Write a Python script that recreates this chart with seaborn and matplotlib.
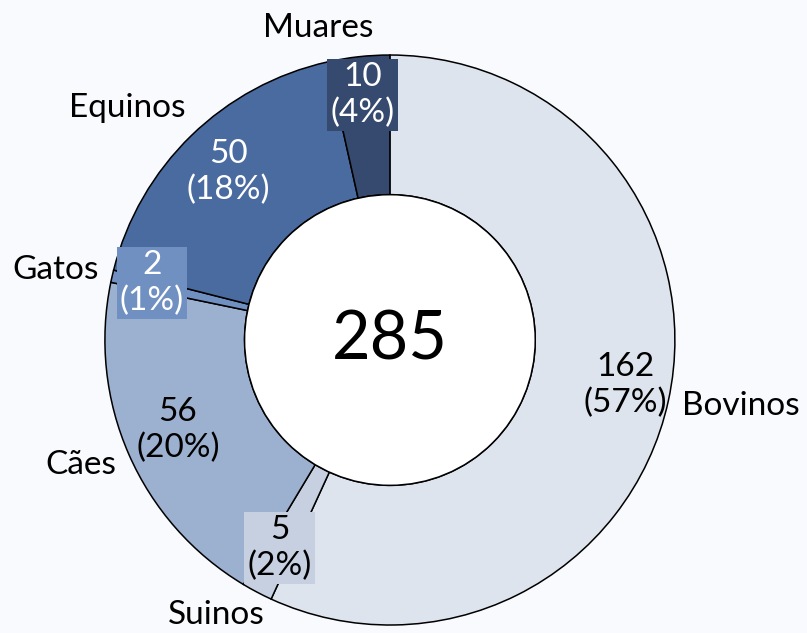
import matplotlib
matplotlib.use("Agg")
from matplotlib import pyplot as plt
import seaborn as sns
import numpy as np

# data
categories = ["Bovinos", "Suinos", "Cães", "Gatos", "Equinos", "Muares"]
counts = [162, 5, 56, 2, 50, 10]
colors = ["#dee4ee", "#c6d0e1", "#9cb0cf", "#7190c2", "#4a6b9f", "#354a6e"]
text_colors = ["black", "black", "black", "white", "white", "white"]
boxed = [False, True, False, True, False, True]

# label spots (data units, radius 1 = outer ring)
value_pos = [(0.825, -0.158), (-0.386, -0.730), (-0.744, -0.316),
             (-0.835, 0.20), (-0.568, 0.589), (-0.095, 0.86)]
name_pos = [(1.23, -0.23), (-0.61, -0.965), (-1.084, -0.439),
            (-1.172, 0.246), (-0.923, 0.814), (-0.253, 1.095)]

sns.set_style("white")
plt.rcParams["font.family"] = ["Lato", "DejaVu Sans"]
bg = "#f9fafd"

fig = plt.figure(figsize=(8.07, 6.33), dpi=100, facecolor=bg)
ax = fig.add_axes([0.130, 0.0126, 0.7063, 0.9005])
ax.set_facecolor(bg)

ax.pie(counts, colors=colors, startangle=90, counterclock=False, radius=1,
       wedgeprops=dict(width=0.49, edgecolor="black", linewidth=1.1))
ax.add_patch(plt.Circle((0, 0), 0.51, facecolor="white", edgecolor="black", linewidth=1.1))

total = sum(counts)
for i, cat in enumerate(categories):
    pct = round(100 * counts[i] / total)
    label = f"{counts[i]}\n({pct}%)"
    bbox = dict(boxstyle="square,pad=0.1", facecolor=colors[i], edgecolor="none") if boxed[i] else None
    ax.text(*value_pos[i], label, ha="center", va="center", fontsize=24,
            color=text_colors[i], linespacing=1.22, bbox=bbox)
    ax.text(*name_pos[i], cat, ha="center", va="center", fontsize=24, color="black")

ax.text(0, 0, str(total), ha="center", va="center", fontsize=48, color="black")

ax.set_xlim(-1, 1)
ax.set_ylim(-1, 1)
ax.set_aspect("equal")
ax.axis("off")

fig.savefig("out.png", dpi=100, facecolor=bg)
